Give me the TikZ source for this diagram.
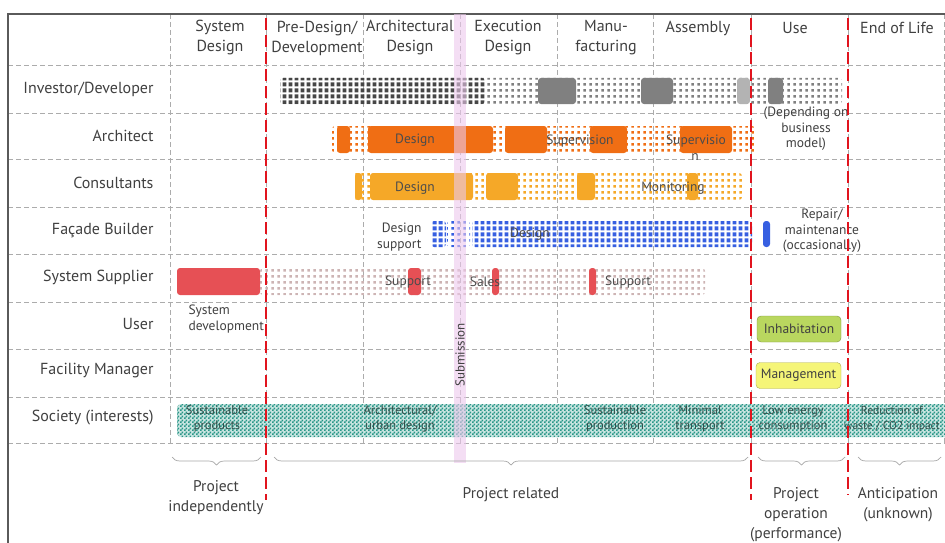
\documentclass[tikz,border=0pt]{standalone}
\usepackage{fontspec}
\setmainfont{PT Sans}
\usetikzlibrary{patterns.meta,decorations.pathreplacing,positioning}

\definecolor{txtgray}{RGB}{64,64,64}
\definecolor{framegray}{RGB}{90,90,90}
\definecolor{phasered}{RGB}{225,20,30}
\definecolor{invdark}{RGB}{70,70,70}
\definecolor{invgray}{RGB}{128,128,128}
\definecolor{arcorange}{RGB}{240,110,20}
\definecolor{conorange}{RGB}{245,168,40}
\definecolor{facblue}{RGB}{55,95,225}
\definecolor{supred}{RGB}{230,80,85}
\definecolor{supgray}{RGB}{205,180,180}
\definecolor{usegreen}{RGB}{185,215,95}
\definecolor{fmyellow}{RGB}{245,245,120}
\definecolor{socteal}{RGB}{40,150,135}
\definecolor{soctext}{RGB}{50,80,75}
\definecolor{subpink}{RGB}{236,200,236}

\tikzdeclarepattern{name=bigdots, type=uncolored,
  bounding box={(0pt,0pt) and (6pt,6pt)}, tile size={(6pt,6pt)},
  code={\pgfpathrectangle{\pgfpoint{1.5pt}{1.5pt}}{\pgfpoint{3pt}{3pt}}\pgfusepath{fill}}}
\tikzdeclarepattern{name=cells, type=uncolored,
  bounding box={(0pt,0pt) and (6pt,6pt)}, tile size={(6pt,6pt)},
  code={\pgfpathrectangle{\pgfpoint{0.8pt}{0.8pt}}{\pgfpoint{4.4pt}{4.4pt}}\pgfusepath{fill}}}
\tikzdeclarepattern{name=checker, type=uncolored,
  bounding box={(0pt,0pt) and (4pt,4pt)}, tile size={(4pt,4pt)},
  code={\pgfpathrectangle{\pgfpoint{0pt}{0pt}}{\pgfpoint{2pt}{2pt}}\pgfpathrectangle{\pgfpoint{2pt}{2pt}}{\pgfpoint{2pt}{2pt}}\pgfusepath{fill}}}

\begin{document}
\begin{tikzpicture}[x=1pt, y=-1pt, font=\fontsize{16}{19}\selectfont, text=txtgray,
  gridline/.style={gray!65, line width=0.8pt, dash pattern=on 5pt off 3pt},
  phaseline/.style={phasered, line width=2.8pt, dash pattern=on 12pt off 5pt},
  rowlabel/.style={anchor=east},
  head/.style={align=center, font=\fontsize{16}{20}\selectfont},
  note/.style={align=center, font=\fontsize{13.5}{15.5}\selectfont},
  inbar/.style={font=\fontsize{13.5}{16}\selectfont, text=black!70},
  soc/.style={align=center, font=\fontsize{12.5}{15}\selectfont, text=soctext},
  dotbar/.style={rounded corners=3pt, pattern=bigdots, pattern color=#1},
  cellbar/.style={rounded corners=3pt, pattern=cells, pattern color=#1},
  block/.style={rounded corners=3pt, fill=#1},
  box/.style={rounded corners=4pt, fill=#1, draw=#1!70!black, minimum height=26pt},
  brace/.style={decorate, decoration={brace, amplitude=8pt, mirror}, gray!70, line width=0.7pt},
  foot/.style={align=center, font=\fontsize{15.5}{20}\selectfont}]

  \useasboundingbox (0,0) rectangle (945,543);

  \foreach \y in {65,113,159,207,254,302,349,397,443}
    \draw[gridline] (8,\y) -- (945,\y);
  \foreach \x in {170,266,363,460,557,653,751,848,944}
    \draw[gridline] (\x,14) -- (\x,443);
  \draw[framegray, line width=1.2pt] (8,543) -- (8,14) -- (945,14);

  \node[head] (hSys) at (220,38) {System\\Design};
  \node[head] (hPre) at (317,38) {Pre-Design/\\Development};
  \node[head] (hArc) at (410,38) {Architectural\\Design};
  \node[head] (hExe) at (508,38) {Execution\\Design};
  \node[head] (hMan) at (606,38) {Manu-\\facturing};
  \node[head] (hAsm) at (698,28) {Assembly};
  \node[head] (hUse) at (795,28) {Use};
  \node[head] (hEol) at (897,28) {End of Life};

  \node[rowlabel] (rInv) at (157,89) {Investor/Developer};
  \node[rowlabel] (rArc) at (157,136) {Architect};
  \node[rowlabel] (rCon) at (157,183) {Consultants};
  \node[rowlabel] (rFac) at (157,230) {Façade Builder};
  \node[rowlabel] (rSup) at (157,277) {System Supplier};
  \node[rowlabel] (rUse) at (157,324) {User};
  \node[rowlabel] (rFm) at (157,371) {Facility Manager};
  \node[rowlabel] (rSoc) at (157,418) {Society (interests)};

  \path[dotbar=invgray] (280,78) rectangle (842,104);
  \path[cellbar=invdark] (280,78) rectangle (485,104);
  \fill[block=invgray] (538,78) rectangle (576,104);
  \fill[block=invgray] (641,78) rectangle (673,104);
  \fill[block=invgray!60] (737,78) rectangle (750,104);
  \fill[block=invgray] (768,78) rectangle (783,104);

  \path[dotbar=arcorange] (332,126) rectangle (755,153);
  \foreach \a/\b in {337/350,368/493,505/547,590/627,680/732}
    \fill[block=arcorange] (\a,126) rectangle (\b,153);

  \path[dotbar=conorange] (352,173) rectangle (742,200);
  \foreach \a/\b in {355/362,370/473,486/518,577/595,687/698}
    \fill[block=conorange] (\a,173) rectangle (\b,200);

  \path[dotbar=facblue] (447,221) rectangle (470,247);
  \path[cellbar=facblue] (431,221) rectangle (446,247);
  \path[cellbar=facblue] (472,221) rectangle (752,247);
  \fill[block=facblue] (763,221) rectangle (770,247);

  \path[dotbar=supgray] (260,268) rectangle (705,295);
  \fill[block=supred] (177,268) rectangle (260,295);
  \foreach \a/\b in {408/421,492/499,589/596}
    \fill[block=supred] (\a,268) rectangle (\b,295);

  \fill[socteal!25, rounded corners=4pt] (177,404) rectangle (960,437);
  \path[rounded corners=4pt, pattern=checker, pattern color=socteal] (177,404) rectangle (960,437);

  \node[box=usegreen, minimum width=84pt] (bInhab) at (799,329) {\fontsize{13.5}{16}\selectfont Inhabitation};
  \node[box=fmyellow, minimum width=85pt] (bManag) at (798.5,375.5) {\fontsize{13.5}{16}\selectfont Management};

  \fill[subpink, fill opacity=0.6] (454,14) rectangle (466,463);
  \node[rotate=90, font=\fontsize{13}{15}\selectfont] (tSubm) at (460,355) {Submission};

  \node[inbar] (tArcDes) at (415,140) {Design};
  \node[inbar] (tArcSup1) at (580,141) {Supervision};
  \node[inbar] (tArcSup2) at (696,141) {Supervisio};
  \node[inbar] (tArcN) at (695,157) {n};
  \node[inbar] (tConDes) at (415,188) {Design};
  \node[inbar] (tMon) at (673,188) {Monitoring};
  \node[inbar] (tFacDes) at (530,234) {Design};
  \node[inbar] (tSup1) at (408,282) {Support};
  \node[inbar] (tSales) at (485,282) {Sales};
  \node[inbar] (tSup2) at (628,282) {Support};

  \node[soc] (sProd) at (217,419) {Sustainable\\products};
  \node[soc] (sUrb) at (400,419) {Architectural/\\urban design};
  \node[soc] (sSusp) at (615,419) {Sustainable\\production};
  \node[soc] (sTrans) at (700,419) {Minimal\\transport};
  \node[soc] (sEner) at (793,419) {Low energy\\consumption};
  \node[soc, anchor=east, inner sep=1pt, font=\fontsize{11.5}{15}\selectfont] (sWaste) at (941,419) {Reduction of\\waste / CO2 impact};

  \node[note] (nDep) at (806,129) {(Depending on\\business\\model)};
  \node[note] (nRep) at (822,231) {Repair/\\maintenance\\(occasionally)};
  \node[note, align=right, anchor=east] (nDsup) at (425,237) {Design\\support};
  \node[note, align=left, anchor=west] (nSysDev) at (185,319) {System\\development};

  \foreach \x/\e in {266/500,751/500,848/495}
    \draw[phaseline] (\x,18) -- (\x,\e);

  \coordinate (b1a) at (172,457); \coordinate (b1b) at (261,457);
  \coordinate (b2a) at (274,457); \coordinate (b2b) at (748,457);
  \coordinate (b3a) at (758,457); \coordinate (b3b) at (845,457);
  \coordinate (b4a) at (858,457); \coordinate (b4b) at (941,457);
  \draw[brace] (b1a) -- (b1b);
  \draw[brace] (b2a) -- (b2b);
  \draw[brace] (b3a) -- (b3b);
  \draw[brace] (b4a) -- (b4b);

  \node[foot] (fIndep) at (216,498) {Project\\independently};
  \node[foot] (fRel) at (511,495) {Project related};
  \node[foot] (fOper) at (796,515) {Project\\operation\\(performance)};
  \node[foot] (fAnt) at (898,505) {Anticipation\\(unknown)};
\end{tikzpicture}
\end{document}
